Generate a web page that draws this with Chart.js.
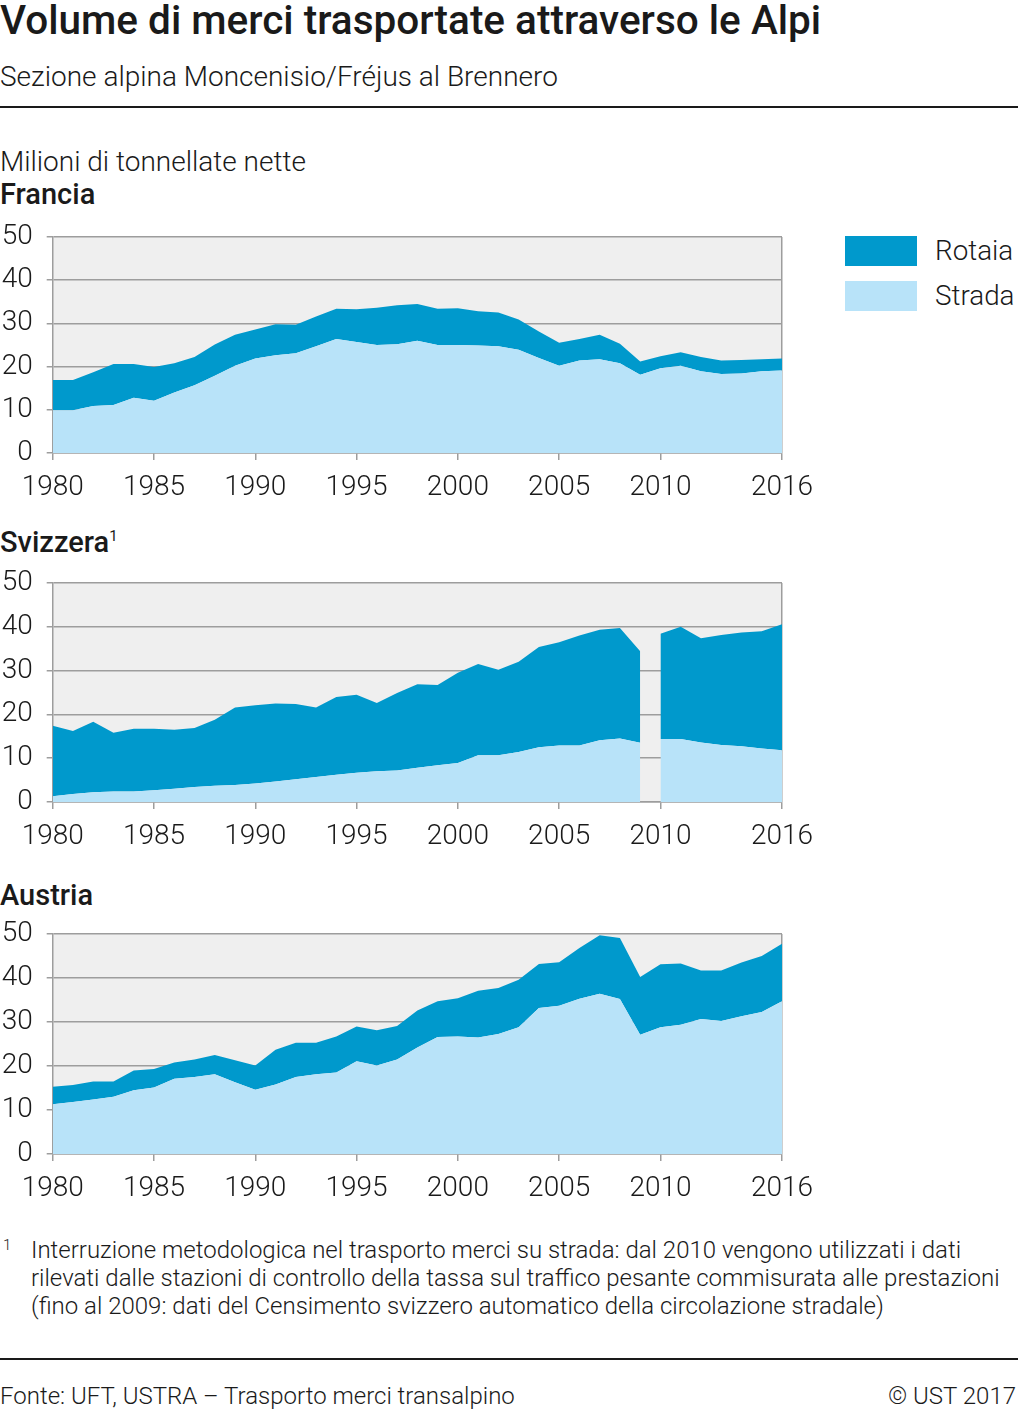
<!DOCTYPE html>
<html lang="it">
<head>
<meta charset="utf-8">
<title>Volume di merci trasportate attraverso le Alpi</title>
<script src="https://cdn.jsdelivr.net/npm/chart.js@4.4.0/dist/chart.umd.min.js"></script>
<style>
  body { margin: 0; width: 1024px; height: 1409px; background: #fff; position: relative; overflow: hidden;
         font-family: Roboto, "Noto Sans", sans-serif; color: #1a1a1a; }
  .t { position: absolute; white-space: nowrap; line-height: 1; }
  .light { font-weight: 300; }
  .head { font-weight: 500; font-size: 29px; left: 0; }
  .rule { position: absolute; left: 0; width: 1018px; height: 2px; background: #1a1a1a; }
  canvas { position: absolute; left: 0; }
  .key { position: absolute; left: 845px; width: 72px; height: 30px; }
  .note { position: absolute; left: 31px; top: 1236px; font-size: 24px; line-height: 28px; font-weight: 300; }
</style>
</head>
<body>

<div class="t" style="left:0; top:0px; font-size:40.5px; font-weight:500;">Volume di merci trasportate attraverso le Alpi</div>
<div class="t light" style="left:0; top:63px; font-size:28px;">Sezione alpina Moncenisio/Fréjus al Brennero</div>
<div class="rule" style="top:106px;"></div>

<div class="t light" style="left:0; top:148px; font-size:28px;">Milioni di tonnellate nette</div>
<div class="t head" style="top:180px;">Francia</div>
<canvas id="francia" width="830" height="304" style="top:205px;"></canvas>

<div class="key" style="top:236px; background:#0099cc;"></div>
<div class="key" style="top:281px; background:#b8e3f9;"></div>
<div class="t light" style="left:935px; top:237px; font-size:27.8px;">Rotaia</div>
<div class="t light" style="left:935px; top:282px; font-size:27.8px;">Strada</div>

<div class="t head" style="top:528px;">Svizzera<sup style="font-size:15px; font-weight:400; vertical-align:11px;">1</sup></div>
<canvas id="svizzera" width="830" height="307" style="top:551px;"></canvas>

<div class="t head" style="top:881px;">Austria</div>
<canvas id="austria" width="830" height="308" style="top:902px;"></canvas>

<div class="t light" style="left:3px; top:1238px; font-size:15px;">1</div>
<div class="note">Interruzione metodologica nel trasporto merci su strada: dal 2010 vengono utilizzati i dati<br>rilevati dalle stazioni di controllo della tassa sul traffico pesante commisurata alle prestazioni<br>(fino al 2009: dati del Censimento svizzero automatico della circolazione stradale)</div>

<div class="rule" style="top:1358px;"></div>
<div class="t light" style="left:0; top:1384px; font-size:24px;">Fonte: UFT, USTRA – Trasporto merci transalpino</div>
<div class="t light" style="right:8px; top:1384px; font-size:24px;">© UST 2017</div>

<script>
// years on the x axis
const years = [1980, 1981, 1982, 1983, 1984, 1985, 1986, 1987, 1988, 1989,
               1990, 1991, 1992, 1993, 1994, 1995, 1996, 1997, 1998, 1999,
               2000, 2001, 2002, 2003, 2004, 2005, 2006, 2007, 2008, 2009,
               2010, 2011, 2012, 2013, 2014, 2015, 2016];
const xTickYears = [1980, 1985, 1990, 1995, 2000, 2005, 2010, 2016];
const yTickValues = [0, 10, 20, 30, 40, 50];

// million net tonnes
const franciaStrada = [9.9, 9.9, 10.9, 11.1, 12.8, 12.1, 14.0, 15.7, 17.9, 20.2,
                       21.9, 22.6, 23.1, 24.7, 26.4, 25.7, 25.0, 25.2, 26.0, 25.0,
                       25.0, 24.9, 24.7, 23.9, 22.0, 20.2, 21.4, 21.7, 20.8, 18.1,
                       19.6, 20.2, 18.9, 18.3, 18.4, 18.9, 19.1];
const franciaRotaia = [7.0, 7.0, 7.8, 9.5, 7.8, 7.8, 6.8, 6.5, 7.2, 7.2,
                       6.7, 7.2, 6.6, 6.9, 7.0, 7.6, 8.6, 9.0, 8.5, 8.4,
                       8.5, 7.9, 7.8, 7.0, 6.1, 5.3, 5.0, 5.7, 4.5, 3.1,
                       2.8, 3.1, 3.3, 3.1, 3.1, 2.8, 2.8];

const svizzeraStrada = [1.3, 1.8, 2.2, 2.4, 2.4, 2.7, 3.0, 3.4, 3.7, 3.9,
                        4.2, 4.7, 5.2, 5.7, 6.2, 6.7, 7.0, 7.2, 7.8, 8.4,
                        8.9, 10.7, 10.7, 11.4, 12.5, 12.9, 12.9, 14.1, 14.5, 13.5,
                        14.4, 14.4, 13.6, 13.0, 12.7, 12.2, 11.8];
const svizzeraRotaia = [16.1, 14.4, 16.1, 13.4, 14.3, 14.0, 13.5, 13.5, 15.1, 17.7,
                        17.9, 17.8, 17.2, 15.9, 17.8, 17.8, 15.6, 17.7, 19.1, 18.3,
                        20.6, 20.8, 19.5, 20.6, 22.9, 23.6, 25.1, 25.2, 25.2, 20.9,
                        24.0, 25.6, 23.8, 25.1, 26.0, 26.8, 28.8];
// methodological break in road data between 2009 and 2010
const svizzeraBreak = 2009.5;

const austriaStrada = [11.3, 11.8, 12.4, 13.0, 14.5, 15.1, 17.1, 17.5, 18.1, 16.3,
                       14.6, 15.8, 17.5, 18.1, 18.5, 21.1, 20.1, 21.5, 24.2, 26.6,
                       26.7, 26.5, 27.3, 28.8, 33.2, 33.7, 35.3, 36.4, 35.2, 27.1,
                       28.8, 29.4, 30.7, 30.2, 31.3, 32.3, 34.7];
const austriaRotaia = [4.0, 3.9, 4.1, 3.5, 4.5, 4.2, 3.7, 4.0, 4.4, 5.0,
                       5.5, 7.9, 7.8, 7.2, 8.2, 7.9, 8.0, 7.6, 8.4, 8.1,
                       8.7, 10.6, 10.4, 10.8, 10.0, 9.9, 11.5, 13.3, 13.9, 13.1,
                       14.3, 13.9, 11.0, 11.5, 12.2, 12.7, 13.1];

const COL_ROTAIA = '#0099cc';
const COL_STRADA = '#b8e3f9';
const GRID = '#9d9d9d';
const TICK_FONT = { family: 'Roboto', size: 28, weight: 300 };

function toPoints(values, breakAt) {
    const pts = [];
    years.forEach((yr, i) => {
        pts.push({ x: yr, y: values[i] });
        if (breakAt && yr < breakAt && years[i + 1] > breakAt) {
            pts.push({ x: breakAt, y: null });
        }
    });
    return pts;
}

// light grey plot background
const plotBg = {
    id: 'plotBg',
    beforeDraw(chart) {
        const { ctx, chartArea: a } = chart;
        ctx.save();
        ctx.fillStyle = '#efefef';
        ctx.fillRect(a.left, a.top, a.right - a.left, a.bottom - a.top);
        ctx.restore();
    }
};

function makeChart(id, strada, rotaia, breakAt) {
    return new Chart(document.getElementById(id), {
        type: 'line',
        data: {
            datasets: [
                { label: 'Strada', data: toPoints(strada, breakAt), backgroundColor: COL_STRADA, fill: 'origin' },
                { label: 'Rotaia', data: toPoints(rotaia, breakAt), backgroundColor: COL_ROTAIA, fill: '-1' }
            ]
        },
        options: {
            responsive: false,
            animation: false,
            layout: { padding: { top: 32, right: 48, left: 0, bottom: 0 } },
            elements: {
                point: { radius: 0, hoverRadius: 0 },
                line: { borderWidth: 0, borderColor: 'rgba(0,0,0,0)', tension: 0 }
            },
            plugins: { legend: { display: false }, tooltip: { enabled: false } },
            scales: {
                x: {
                    type: 'linear',
                    min: 1980,
                    max: 2016,
                    afterBuildTicks: (s) => { s.ticks = xTickYears.map(v => ({ value: v })); },
                    afterFit: (s) => { s.height = 56; },
                    ticks: { callback: (v) => String(v), font: TICK_FONT, color: '#1a1a1a', padding: 11, maxRotation: 0, autoSkip: false },
                    grid: {
                        color: (c) => (c.tick && c.tick.value === 2016 ? GRID : 'rgba(0,0,0,0)'),
                        tickColor: GRID,
                        tickLength: 7,
                        lineWidth: 1.5
                    },
                    border: { color: GRID, width: 1.5 }
                },
                y: {
                    stacked: true,
                    min: 0,
                    max: 50,
                    afterBuildTicks: (s) => { s.ticks = yTickValues.map(v => ({ value: v })); },
                    afterFit: (s) => { s.width = 52.7; },
                    ticks: { font: TICK_FONT, color: '#1a1a1a', padding: 14 },
                    grid: { color: GRID, tickColor: GRID, lineWidth: 1.5, tickLength: 6 },
                    border: { color: GRID, width: 1.5 }
                }
            }
        },
        plugins: [plotBg]
    });
}

makeChart('francia', franciaStrada, franciaRotaia);
makeChart('svizzera', svizzeraStrada, svizzeraRotaia, svizzeraBreak);
makeChart('austria', austriaStrada, austriaRotaia);
</script>
</body>
</html>
